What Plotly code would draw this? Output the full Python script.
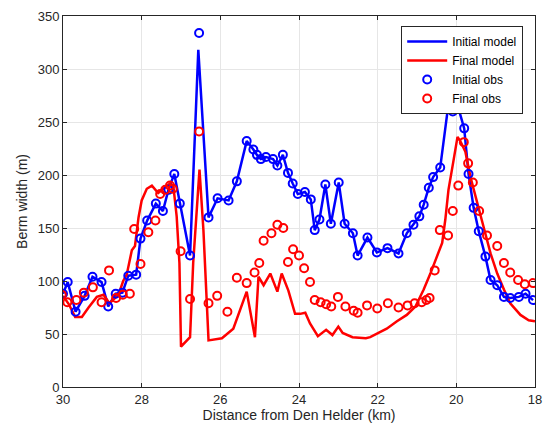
import plotly.graph_objects as go

# Initial observations (distance km, berm width m)
init_obs_x = [30.0, 29.88, 29.68, 29.45, 29.25, 29.02, 28.85, 28.66, 28.49, 28.34, 28.14, 28.03,
              27.86, 27.64, 27.46, 27.32, 27.17, 27.03, 26.77, 26.54, 26.30, 26.07, 25.79, 25.58,
              25.33, 25.16, 25.07, 24.97, 24.84, 24.66, 24.55, 24.41, 24.28, 24.16, 24.03, 23.85,
              23.70, 23.60, 23.48, 23.33, 23.19, 22.99, 22.84, 22.63, 22.51, 22.26, 22.02, 21.75,
              21.47, 21.26, 21.09, 20.94, 20.83, 20.70, 20.59, 20.41, 20.09, 19.80, 19.69, 19.56,
              19.43, 19.26, 19.13, 18.96, 18.79, 18.63, 18.41, 18.24, 18.05]
init_obs_y = [88, 99, 71, 86, 104, 99, 76, 88, 89, 105, 106, 140,
              157, 173, 166, 186, 201, 173, 124, 334, 160, 178, 176, 194,
              232, 224, 219, 215, 217, 215, 209, 219, 202, 192, 182, 184,
              177, 148, 158, 191, 154, 193, 154, 145, 124, 141, 127, 131,
              126, 145, 153, 161, 172, 188, 198, 207, 260, 244, 201, 169,
              147, 123, 101, 96, 85, 84, 85, 88, 82]

# Initial model line
init_model_x = [30.0, 29.88, 29.68, 29.45, 29.25, 29.02, 28.85, 28.66, 28.49, 28.34, 28.14, 28.03,
                27.86, 27.64, 27.46, 27.32, 27.17, 27.03, 26.77, 26.56, 26.30, 26.07, 25.79, 25.58,
                25.33, 25.16, 25.07, 24.97, 24.84, 24.66, 24.55, 24.41, 24.28, 24.16, 24.03, 23.85,
                23.70, 23.60, 23.48, 23.33, 23.19, 22.99, 22.84, 22.63, 22.51, 22.26, 22.02, 21.75,
                21.47, 21.26, 21.09, 20.94, 20.83, 20.70, 20.59, 20.41, 20.19, 20.09, 20.00, 19.80,
                19.69, 19.56, 19.43, 19.26, 19.13, 18.96, 18.79, 18.63, 18.41, 18.24, 18.05]
init_model_y = [88, 99, 71, 86, 104, 99, 76, 88, 89, 105, 106, 140,
                157, 173, 166, 186, 201, 173, 124, 318, 160, 178, 176, 194,
                232, 224, 219, 215, 217, 215, 209, 219, 202, 192, 182, 184,
                177, 148, 158, 191, 154, 193, 154, 145, 124, 141, 127, 131,
                126, 145, 153, 161, 172, 188, 198, 207, 270, 261, 270, 244,
                201, 169, 147, 123, 101, 96, 85, 84, 85, 88, 82]

# Final model line
final_model_x = [30.0, 29.85, 29.69, 29.52, 29.35, 29.14, 28.97, 28.82, 28.59, 28.47, 28.38, 28.25,
                 28.17, 28.08, 28.0, 27.87, 27.74, 27.58, 27.45, 27.28, 27.19, 27.11, 27.04, 27.0,
                 26.77, 26.69, 26.53, 26.43, 26.30, 25.96, 25.67, 25.33, 25.12, 25.03, 24.90, 24.73,
                 24.55, 24.44, 24.27, 24.10, 23.97, 23.84, 23.72, 23.52, 23.31, 23.15, 23.0, 22.89,
                 22.64, 22.30, 22.19, 21.93, 21.77, 21.51, 21.26, 21.04, 20.83, 20.66, 20.49, 20.36,
                 20.28, 20.20, 20.07, 19.97, 19.90, 19.77, 19.64, 19.47, 19.30, 19.13, 18.96, 18.79,
                 18.63, 18.37, 18.16, 18.0]
final_model_y = [86, 78, 66, 66, 75, 85, 87, 79, 87, 100, 106, 129,
                 133, 160, 176, 187, 190, 183, 187, 192, 188, 161, 117, 38,
                 47, 117, 205, 148, 44, 46, 55, 90, 47, 104, 96, 107,
                 90, 107, 91, 69, 69, 70, 60, 48, 54, 49, 57, 51,
                 47, 46, 47, 52, 55, 62, 68, 76, 92, 107, 123, 136,
                 158, 186, 214, 236, 232, 222, 198, 173, 150, 126, 107, 92,
                 79, 68, 63, 62]

# Final observations
final_obs_x = [30.03, 29.89, 29.66, 29.47, 29.24, 29.02, 28.83, 28.65, 28.48, 28.30, 28.19, 28.03,
               27.83, 27.65, 27.53, 27.40, 27.28, 27.21, 27.01, 26.77, 26.54, 26.30, 26.08, 25.82,
               25.58, 25.33, 25.13, 25.01, 24.90, 24.70, 24.55, 24.40, 24.28, 24.15, 24.00, 23.87,
               23.72, 23.60, 23.45, 23.31, 23.18, 23.01, 22.82, 22.61, 22.51, 22.27, 22.01, 21.74,
               21.47, 21.24, 21.06, 20.88, 20.76, 20.68, 20.55, 20.42, 20.21, 20.09, 19.95, 19.81,
               19.70, 19.58, 19.42, 19.22, 18.96, 18.79, 18.63, 18.43, 18.26, 18.05]
final_obs_y = [87, 80, 82, 89, 94, 80, 110, 84, 87, 88, 149, 116,
               146, 157, 182, 186, 190, 187, 128, 83, 241, 79, 86, 71,
               103, 98, 108, 117, 138, 145, 153, 150, 118, 130, 124, 112,
               99, 82, 80, 78, 76, 85, 76, 72, 70, 77, 74, 79,
               75, 77, 79, 80, 82, 84, 110, 148, 143, 166, 190, 231,
               211, 193, 166, 143, 133, 117, 108, 101, 97, 98]

x_ticks = [30, 28, 26, 24, 22, 20, 18]
y_ticks = [0, 50, 100, 150, 200, 250, 300, 350]

fig = go.Figure()
fig.add_trace(go.Scatter(x=init_model_x, y=init_model_y, mode="lines", name="Initial model",
                         line=dict(color="#0000ff", width=2.5)))
fig.add_trace(go.Scatter(x=final_model_x, y=final_model_y, mode="lines", name="Final model",
                         line=dict(color="#ff0000", width=2.5)))
fig.add_trace(go.Scatter(x=init_obs_x, y=init_obs_y, mode="markers", name="Initial obs",
                         marker=dict(symbol="circle-open", size=8, color="#0000ff",
                                     line=dict(width=2, color="#0000ff"))))
fig.add_trace(go.Scatter(x=final_obs_x, y=final_obs_y, mode="markers", name="Final obs",
                         marker=dict(symbol="circle-open", size=8, color="#ff0000",
                                     line=dict(width=2, color="#ff0000"))))

axis_common = dict(showline=True, linecolor="#262626", linewidth=1, mirror="ticks",
                   ticks="inside", ticklen=4, tickcolor="#262626", automargin=False,
                   showgrid=True, gridcolor="#e6e6e6", gridwidth=1, zeroline=False,
                   tickfont=dict(family="Liberation Sans, Arial", size=13, color="#262626"))

fig.update_layout(
    width=544, height=431,
    margin=dict(l=63, r=9, t=16, b=44),
    plot_bgcolor="white", paper_bgcolor="white",
    font=dict(family="Liberation Sans, Arial", size=13, color="#262626"),
    xaxis=dict(range=[30, 18], tickvals=x_ticks, ticktext=[str(v) for v in x_ticks],
               title=dict(text="Distance from Den Helder (km)", font=dict(size=14), standoff=4),
               **axis_common),
    yaxis=dict(range=[0, 350], tickvals=y_ticks, ticktext=[str(v) for v in y_ticks],
               title=dict(text="Berm width (m)", font=dict(size=14), standoff=6),
               **axis_common),
    legend=dict(x=0.975, y=0.973, xanchor="right", yanchor="top",
                bgcolor="white", bordercolor="#262626", borderwidth=1,
                font=dict(size=12, color="#000000"), tracegroupgap=0,
                itemwidth=40),
    showlegend=True,
)

# remove the default page margin so the figure fills the window exactly
fig.write_html("out.html", config={"displayModeBar": False},
               post_script="document.body.style.margin='0px';")
